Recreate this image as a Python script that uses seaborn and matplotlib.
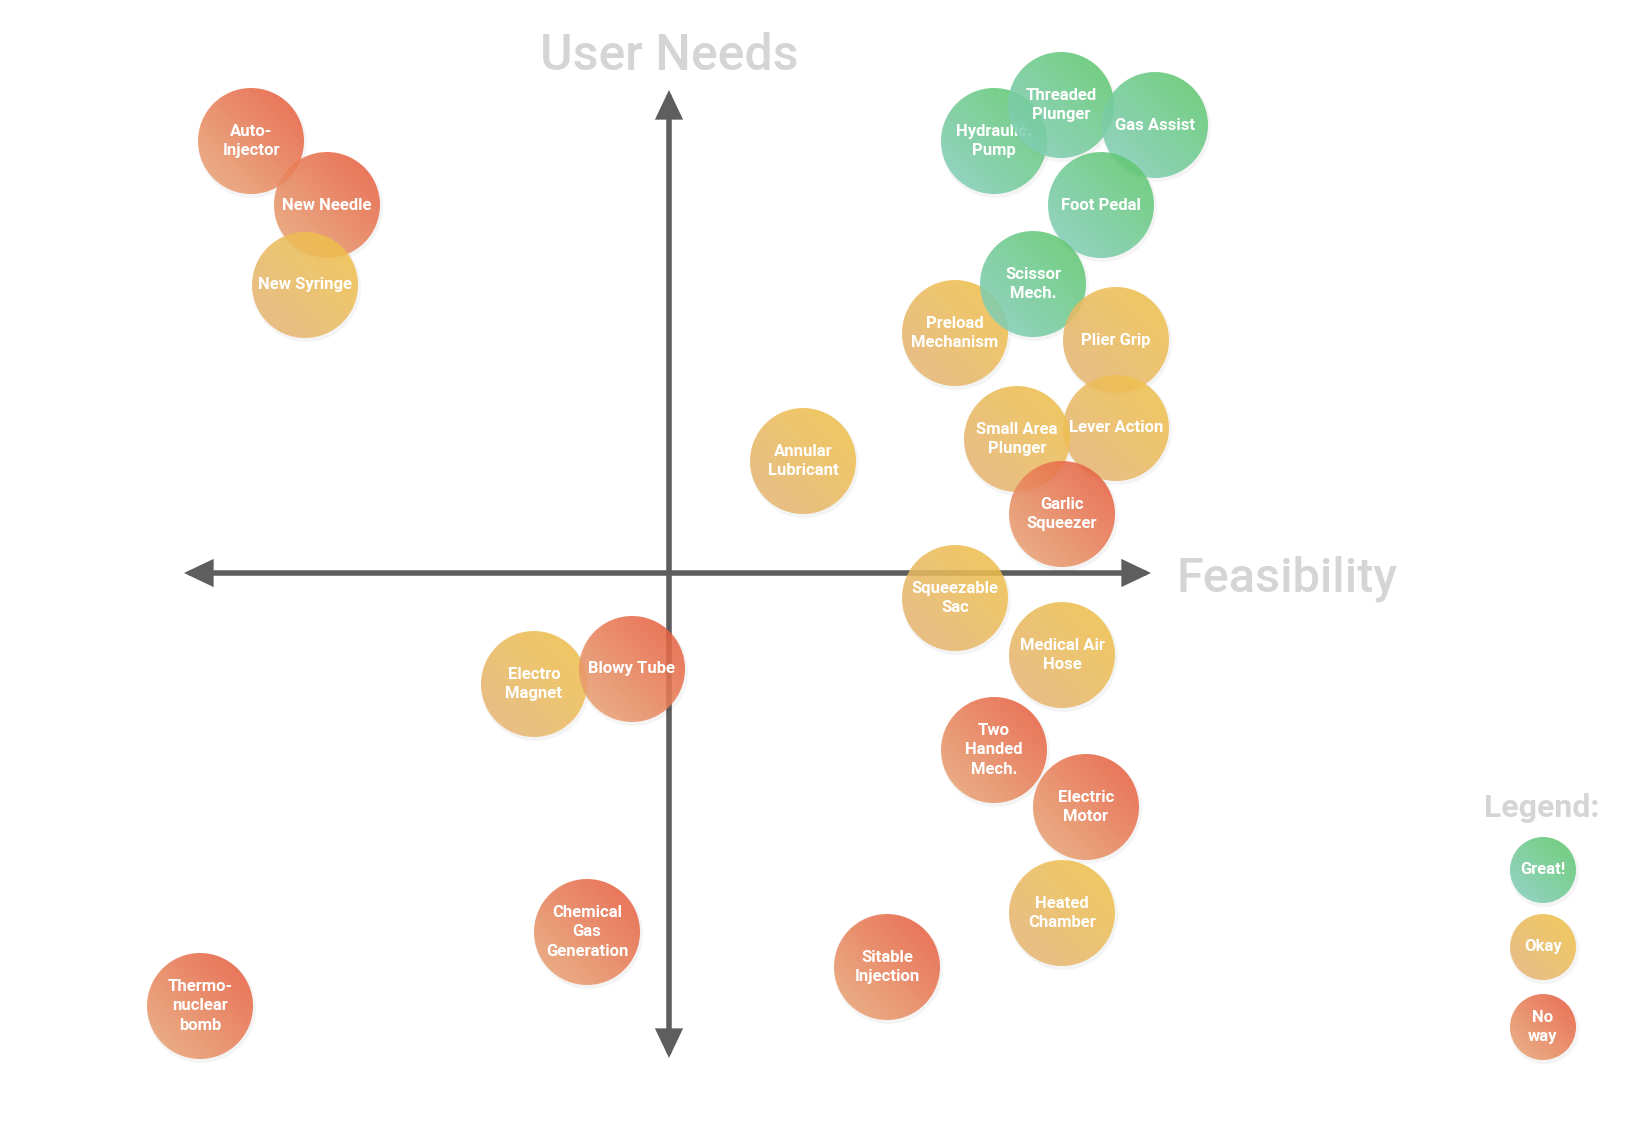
import numpy as np
import pandas as pd
import matplotlib.pyplot as plt
import seaborn as sns
from matplotlib.patches import Circle
from matplotlib.colors import to_rgb

# Ideas placed on the feasibility / user-needs map (origin = where the arrows cross)
labels = ["Auto-\nInjector", "New Needle", "New Syringe", "Hydraulic.\nPump", "Threaded\nPlunger",
          "Gas Assist", "Foot Pedal", "Preload\nMechanism", "Scissor\nMech.", "Plier Grip",
          "Lever Action", "Small Area\nPlunger", "Garlic\nSqueezer", "Annular\nLubricant",
          "Squeezable\nSac", "Medical Air\nHose", "Electro\nMagnet", "Blowy Tube",
          "Two\nHanded\nMech.", "Electric\nMotor", "Heated\nChamber", "Chemical\nGas\nGeneration",
          "Sitable\nInjection", "Thermo-\nnuclear\nbomb"]
feasibility = [-418, -342, -364, 325, 392, 486, 432, 286, 364, 447, 447, 348, 393, 134,
               286, 393, -135, -37, 325, 417, 393, -82, 218, -469]
user_needs = [432, 368, 288, 432, 468, 448, 368, 240, 289, 233, 145, 134, 59, 112,
              -25, -82, -111, -96, -177, -234, -340, -359, -394, -433]
rating = ["noway", "noway", "okay", "great", "great", "great", "great", "okay", "great", "okay",
          "okay", "okay", "noway", "okay", "okay", "okay", "okay", "noway", "noway", "noway",
          "okay", "noway", "noway", "noway"]

legend_labels = ["Great!", "Okay", "No\nway"]
legend_rating = ["great", "okay", "noway"]
legend_x = [874, 874, 874]
legend_y = [-297, -374, -454]

# top-right colour, bottom-left colour
gradients = {
    "great": ("#5ac765", "#88cfc3"),
    "okay": ("#f2c244", "#e4b47b"),
    "noway": ("#e8573a", "#e8ab7a"),
}

df = pd.DataFrame({"label": labels, "feasibility": feasibility,
                   "user_needs": user_needs, "rating": rating})
df_legend = pd.DataFrame({"label": legend_labels, "feasibility": legend_x,
                          "user_needs": legend_y, "rating": legend_rating})

sns.set_theme(style="white")
plt.rcParams['font.family'] = ['Roboto', 'DejaVu Sans']

fig = plt.figure(figsize=(16.36, 11.48), dpi=100)
ax = fig.add_axes([0, 0, 1, 1])

# soft drop shadows
sns.scatterplot(data=df.assign(feasibility=df.feasibility + 1, user_needs=df.user_needs - 2),
                x="feasibility", y="user_needs", s=6150, color="black", alpha=0.045,
                linewidth=0, legend=False, ax=ax, zorder=2)
sns.scatterplot(data=df_legend.assign(feasibility=df_legend.feasibility + 1,
                                      user_needs=df_legend.user_needs - 2),
                x="feasibility", y="user_needs", s=2500, color="black", alpha=0.045,
                linewidth=0, legend=False, ax=ax, zorder=2)

n = 80
ii, jj = np.mgrid[0:n, 0:n] / (n - 1)
t = (ii + (1 - jj)) / 2


def bubble(x, y, r, kind, text, z, fs=12):
    c0 = np.array(to_rgb(gradients[kind][0]))
    c1 = np.array(to_rgb(gradients[kind][1]))
    img = c0 * (1 - t[..., None]) + c1 * t[..., None]
    im = ax.imshow(img, extent=[x - r, x + r, y - r, y + r], origin="upper",
                   interpolation="bilinear", alpha=0.86, zorder=z)
    clip = Circle((x, y), r, transform=ax.transData)
    im.set_clip_path(clip)
    ax.text(x, y, text, ha="center", va="center", color="white", fontsize=fs,
            fontweight="semibold", linespacing=1.36, zorder=z + 0.5)


# axes arrows
arrow = dict(arrowstyle="<|-|>,head_length=1.05,head_width=0.5", color="#5e5e5e",
             lw=4.0, mutation_scale=14, shrinkA=0, shrinkB=0, joinstyle="miter")
ax.annotate("", xy=(482, 0), xytext=(-485, 0), arrowprops=arrow, zorder=1)
ax.annotate("", xy=(0, 483), xytext=(0, -485), arrowprops=arrow, zorder=1)

for k, row in df.iterrows():
    bubble(row.feasibility, row.user_needs, 53, row.rating, row.label, 3 + k)

for k, row in df_legend.iterrows():
    bubble(row.feasibility, row.user_needs, 33, row.rating, row.label, 40 + k)

ax.text(0, 503, "User Needs", ha="center", va="baseline", fontsize=36,
        fontweight="medium", color="#d5d5d5")
ax.text(507, -19, "Feasibility", ha="left", va="baseline", fontsize=35,
        fontweight="medium", color="#d5d5d5")
ax.text(873, -244, "Legend:", ha="center", va="baseline", fontsize=23,
        fontweight="bold", color="#d5d5d5")

ax.set_xlim(-669, 967)
ax.set_ylim(-575, 573)
ax.set_aspect("equal")
ax.axis("off")

plt.savefig("out.png", dpi=100)
